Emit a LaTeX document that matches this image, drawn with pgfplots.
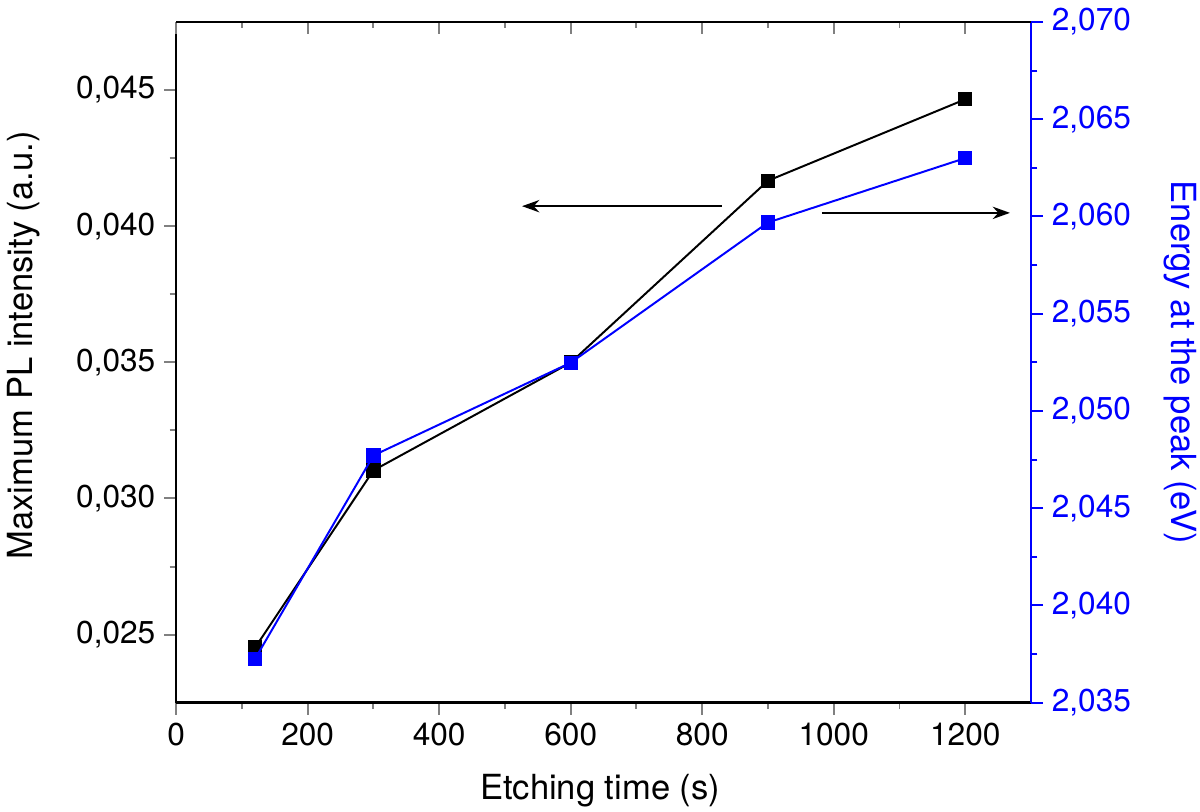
\documentclass[border=0pt]{standalone}
\usepackage{pgfplots}
\pgfplotsset{compat=1.18}
\usepackage{fontspec}
\setmainfont{TeX Gyre Heros}
\usetikzlibrary{arrows.meta}

\begin{document}
\begin{tikzpicture}
\pgfplotsset{
  common/.style={
    scale only axis, width=346pt, height=275.5pt,
    xmin=0, xmax=1300,
    xtick={0,200,...,1200}, minor x tick num=1,
    major tick length=4.9pt, minor tick length=2.6pt,
    tick style={line width=0.8pt},
    axis line style={line width=1pt},
    tick label style={font=\fontsize{12.8}{14}\selectfont},
    /pgf/number format/assume math mode=true,
  },
  commaticks/.style={
    scaled y ticks=false,
    yticklabel style={/pgf/number format/fixed, /pgf/number format/fixed zerofill,
      /pgf/number format/precision=3, /pgf/number format/use comma},
  },
}

% left axis: PL intensity
\begin{axis}[common, commaticks,
  axis x line*=bottom, axis y line*=left, tick align=outside,
  ymin=0.0225, ymax=0.0475,
  ytick={0.025,0.030,0.035,0.040,0.045}, minor y tick num=1,
  xticklabel style={/pgf/number format/1000 sep={}},
  xlabel={Etching time (s)},
  ylabel={Maximum PL intensity (a.u.)},
  every axis x label/.style={at={(rel axis cs:0.496,-0.13)}, anchor=center, font=\fontsize{14}{16}\selectfont},
  every axis y label/.style={at={(rel axis cs:-0.178,0.525)}, anchor=center, rotate=90, font=\fontsize{14}{16}\selectfont},
]
\addplot[black, line width=0.8pt, mark=square*, mark size=2.5pt] coordinates {
  (120,0.02452) (300,0.03103) (600,0.03499) (900,0.04167) (1200,0.04466)
};
\draw[-{Stealth[length=7pt,width=5pt]}, line width=0.8pt] (axis cs:830,0.040735) -- (axis cs:526,0.040735);
\draw[-{Stealth[length=7pt,width=5pt]}, line width=0.8pt] (axis cs:982,0.040489) -- (axis cs:1268,0.040489);
\coordinate (bl) at (rel axis cs:0,0);
\coordinate (tr) at (rel axis cs:1,1);
\end{axis}

% right axis: peak energy
\begin{axis}[common, commaticks,
  hide x axis, axis y line*=right, tick align=outside,
  ymin=2.035, ymax=2.070,
  ytick={2.035,2.040,2.045,2.050,2.055,2.060,2.065,2.070}, minor y tick num=1,
  axis line style={blue},
  tick style={blue},
  yticklabel style={text=blue},
  ylabel={Energy at the peak (eV)},
  every axis y label/.style={at={(rel axis cs:1.175,0.5)}, anchor=center, rotate=-90, text=blue, font=\fontsize{14}{16}\selectfont},
]
\addplot[blue, line width=0.8pt, mark=square*, mark size=2.5pt] coordinates {
  (120,2.03725) (300,2.04771) (600,2.05248) (900,2.05969) (1200,2.0630)
};
\end{axis}

% top frame with inward ticks
\begin{axis}[common,
  axis x line*=top, hide y axis, tick align=inside,
  ymin=0, ymax=1, xticklabels={},
]
\end{axis}

\pgfresetboundingbox
\path[use as bounding box] ([xshift=-71.3pt,yshift=-44.1pt]bl) rectangle ([xshift=68.4pt,yshift=8.9pt]tr);
\end{tikzpicture}
\end{document}
